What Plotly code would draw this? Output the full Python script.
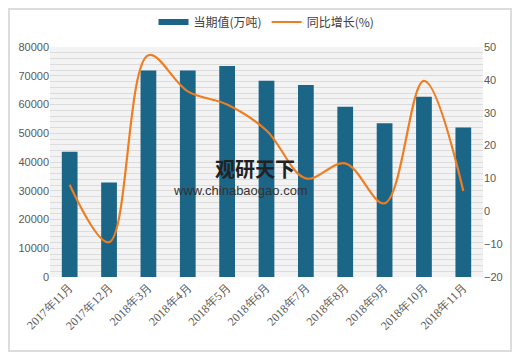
import plotly.graph_objects as go

categories = ["2017年11月", "2017年12月", "2018年3月", "2018年4月", "2018年5月", "2018年6月",
              "2018年7月", "2018年8月", "2018年9月", "2018年10月", "2018年11月"]
volume = [43600, 32900, 71800, 71800, 73400, 68300, 66800, 59200, 53500, 62700, 52000]
growth = [8.1, -9.4, 47.5, 36.5, 32.5, 24.6, 10.0, 14.6, 2.4, 39.7, 6.2]

left_ticks = [0, 10000, 20000, 30000, 40000, 50000, 60000, 70000, 80000]
right_ticks = [-20, -10, 0, 10, 20, 30, 40, 50]

BAR_COLOR = "#1b6587"
LINE_COLOR = "#ef7d22"

# page body has an 8px margin; figure sized to fit the 520x360 window
OFF = 8
W, H = 520 - 2 * OFF, 360 - 2 * OFF
L, T = 50 - OFF, 47 - OFF
R = W - (483 - OFF)
B = H - (277 - OFF)
PW, PH = W - L - R, H - T - B


def px(x):
    return (x - OFF - L) / PW


def py(y):
    return (H - B - (y - OFF)) / PH


fig = go.Figure()
fig.add_trace(go.Bar(x=categories, y=volume, name="当期值(万吨)", showlegend=False,
                     marker=dict(color=BAR_COLOR, line=dict(width=0)), yaxis="y"))
# legend entry drawn as a wide swatch, like the original
fig.add_trace(go.Scatter(x=[None], y=[None], name="当期值(万吨)", mode="lines",
                         line=dict(color=BAR_COLOR, width=6), yaxis="y"))
fig.add_trace(go.Scatter(x=categories, y=growth, name="同比增长(%)", mode="lines",
                         line=dict(color=LINE_COLOR, width=2.2, shape="spline", smoothing=1.0),
                         yaxis="y2"))

tick_font = dict(family="Liberation Sans, Arial", size=11, color="#595959")
fig.update_layout(
    width=W, height=H,
    margin=dict(l=L, r=R, t=T, b=B, autoexpand=False),
    paper_bgcolor="white",
    plot_bgcolor="#f3f3f3",
    bargap=0.6,
    showlegend=True,
    legend=dict(orientation="h", x=0.5, xanchor="center", y=py(22), yanchor="middle",
                font=dict(family="Noto Sans CJK SC", size=12, color="#404040"),
                bgcolor="rgba(0,0,0,0)", traceorder="normal"),
    xaxis=dict(tickangle=-45, automargin=False,
               tickfont=dict(family="Liberation Serif", size=12, color="#595959"),
               showgrid=False, zeroline=False, showline=False, ticks=""),
    yaxis=dict(range=[0, 80000], tickmode="array", tickvals=left_ticks,
               ticktext=[str(v) for v in left_ticks], tickfont=tick_font, automargin=False,
               showgrid=True, gridcolor="#dcdcdc", gridwidth=1,
               zeroline=False, showline=False, ticks="",
               minor=dict(showgrid=True, gridcolor="#dcdcdc", dtick=2000, tick0=0, ticks="")),
    yaxis2=dict(range=[-20, 50], tickmode="array", tickvals=right_ticks,
                ticktext=[("−" + str(-v)) if v < 0 else str(v) for v in right_ticks],
                tickfont=tick_font, overlaying="y", side="right", automargin=False,
                showgrid=False, zeroline=False, showline=False, ticks=""),
    annotations=[
        dict(text="<b>观研天下</b>", xref="paper", yref="paper", x=px(255), y=py(168),
             showarrow=False, font=dict(family="Noto Sans CJK SC", size=20, color="#222222")),
        dict(text="www.chinabaogao.com", xref="paper", yref="paper", x=px(240), y=py(190),
             showarrow=False, font=dict(family="Liberation Sans, Arial", size=13, color="#333333")),
    ],
    shapes=[dict(type="rect", xref="paper", yref="paper",
                 x0=px(OFF + 1), x1=px(520 - OFF - 1),
                 y0=py(360 - OFF - 1), y1=py(OFF + 1),
                 line=dict(color="#dcdcdc", width=2), layer="below")],
)

fig.write_html("out.html")
